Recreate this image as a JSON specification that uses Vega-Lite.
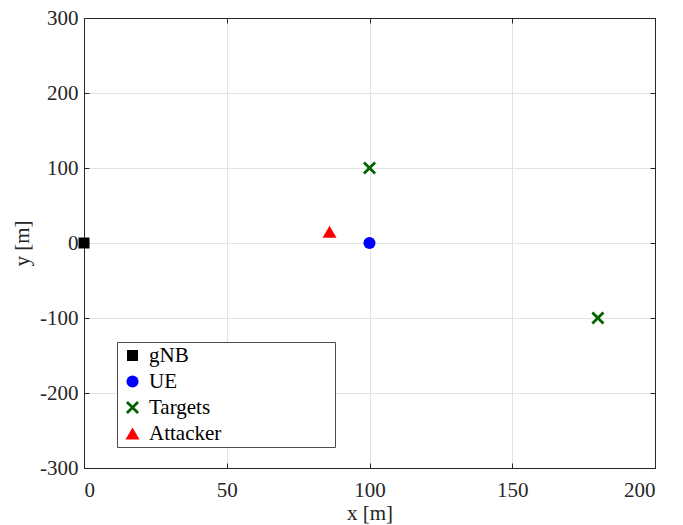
{
  "$schema": "https://vega.github.io/schema/vega-lite/v6.json",
  "width": 571,
  "height": 450,
  "autosize": {"type": "none"},
  "padding": {"left": 84, "top": 18, "right": 28, "bottom": 57},
  "background": "white",
  "config": {
    "font": "Liberation Serif",
    "view": {"stroke": null},
    "axis": {
      "labelFont": "Liberation Serif",
      "titleFont": "Liberation Serif",
      "labelFontSize": 21,
      "titleFontSize": 21,
      "titleFontWeight": "normal",
      "labelColor": "#262626",
      "titleColor": "#262626",
      "domainColor": "#262626",
      "tickColor": "#262626",
      "gridColor": "#e3e3e3",
      "gridWidth": 1
    },
    "legend": {
      "labelFont": "Liberation Serif",
      "labelFontSize": 21
    }
  },
  "data": {
    "values": [
      {"x": 0, "y": 0, "type": "gNB"},
      {"x": 100, "y": 0, "type": "UE"},
      {"x": 100, "y": 100, "type": "Targets"},
      {"x": 180, "y": -100, "type": "Targets"},
      {"x": 86, "y": 15, "type": "Attacker"}
    ]
  },
  "resolve": {"axis": {"x": "independent", "y": "independent"}},
  "layer": [
    {
      "mark": {"type": "point", "filled": true, "opacity": 0},
      "encoding": {
        "x": {"field": "x", "type": "quantitative", "scale": {"domain": [0, 200], "nice": false, "zero": false},
              "axis": {"orient": "top", "labels": false, "grid": false, "title": null, "tickSize": -5, "values": [0, 50, 100, 150, 200], "domainWidth": 1}},
        "y": {"field": "y", "type": "quantitative", "scale": {"domain": [-300, 300], "nice": false},
              "axis": {"orient": "right", "labels": false, "grid": false, "title": null, "tickSize": -5, "values": [-300, -200, -100, 0, 100, 200, 300], "domainWidth": 1}}
      }
    },
    {
      "mark": {"type": "point", "filled": true, "opacity": 1, "clip": false},
      "encoding": {
        "x": {"field": "x", "type": "quantitative", "scale": {"domain": [0, 200], "nice": false, "zero": false},
              "axis": {"orient": "bottom", "title": "x [m]", "grid": true, "tickSize": -5, "labelPadding": 16, "titlePadding": 2, "values": [0, 50, 100, 150, 200], "labelExpr": "replace(datum.label, '\u2212', '-')"}},
        "y": {"field": "y", "type": "quantitative", "scale": {"domain": [-300, 300], "nice": false},
              "axis": {"orient": "left", "title": "y [m]", "grid": true, "tickSize": -5, "labelPadding": 11, "titlePadding": 7, "values": [-300, -200, -100, 0, 100, 200, 300], "labelExpr": "replace(datum.label, '\u2212', '-')"}},
        "color": {"field": "type", "type": "nominal",
                  "scale": {"domain": ["gNB", "UE", "Targets", "Attacker"], "range": ["#000000", "#0000ff", "#006400", "#ff0000"]},
                  "legend": {
                    "title": null, "orient": "none", "legendX": 33, "legendY": 324,
                    "fillColor": "white", "strokeColor": "#4d4d4d", "padding": 3,
                    "symbolOffset": 2,
                    "labelColor": "#000000", "labelOffset": 6, "rowPadding": 4, "labelLimit": 400,
                    "labelExpr": "datum.label + '\u00a0\u00a0\u00a0\u00a0\u00a0\u00a0\u00a0\u00a0\u00a0\u00a0\u00a0\u00a0\u00a0\u00a0\u00a0\u00a0\u00a0\u00a0\u00a0\u00a0\u00a0\u200b'"
                  }},
        "size": {"field": "type", "type": "nominal",
                 "scale": {"domain": ["gNB", "UE", "Targets", "Attacker"], "range": [121, 196, 100, 280]}},
        "shape": {"field": "type", "type": "nominal",
                  "scale": {"domain": ["gNB", "UE", "Targets", "Attacker"],
                            "range": ["square", "circle", "M-1,-0.7L-0.7,-1L0,-0.3L0.7,-1L1,-0.7L0.3,0L1,0.7L0.7,1L0,0.3L-0.7,1L-1,0.7L-0.3,0Z", "triangle-up"]}}
      }
    }
  ]
}
